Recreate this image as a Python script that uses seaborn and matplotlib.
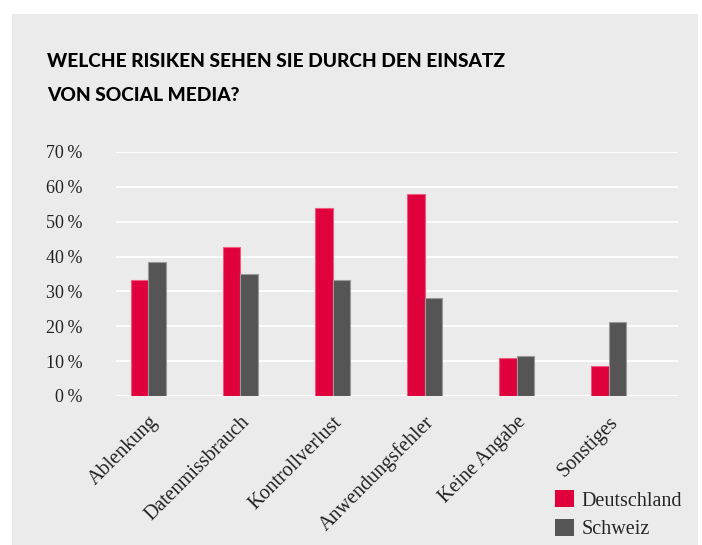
import pandas as pd
import seaborn as sns
import matplotlib.pyplot as plt
from matplotlib.patches import Rectangle, Patch

kategorien = ["Ablenkung", "Datenmissbrauch", "Kontrollverlust",
              "Anwendungsfehler", "Keine Angabe", "Sonstiges"]
deutschland = [33.4, 42.7, 53.8, 57.9, 10.8, 8.6]
schweiz = [38.5, 35.0, 33.4, 28.0, 11.5, 21.3]
laender = ["Deutschland", "Schweiz"]
farben = ["#E0003C", "#555555"]
y_ticks = [0, 10, 20, 30, 40, 50, 60, 70]

df = pd.DataFrame({
    "Kategorie": kategorien * 2,
    "Land": [laender[0]] * len(kategorien) + [laender[1]] * len(kategorien),
    "Wert": deutschland + schweiz,
})

sns.set_theme(style="white")
plt.rcParams["font.family"] = ["Liberation Serif", "DejaVu Serif"]

fig = plt.figure(figsize=(7.02, 5.45), dpi=100)
fig.patch.set_facecolor("white")
fig.patches.append(Rectangle((12 / 702, 0), 686 / 702, 531 / 545,
                             transform=fig.transFigure, facecolor="#EBEBEB",
                             edgecolor="none", zorder=-10))

ax = fig.add_axes([116 / 702, 149 / 545, 562 / 702, 244 / 545])
ax.set_facecolor("none")

sns.barplot(data=df, x="Kategorie", y="Wert", hue="Land", palette=farben,
            width=0.38, ax=ax, legend=False, saturation=1, zorder=3)

for p in ax.patches:
    if p.get_facecolor()[0] < 0.5:
        p.set_edgecolor("#9a9a9a")
    else:
        p.set_edgecolor("#ee5c80")
    p.set_linewidth(0.8)

ax.set_ylim(0, 70)
ax.set_xlim(-0.35, 5.75)
ax.set_yticks(y_ticks)
ax.set_yticklabels([f"{v}\u2009%" for v in y_ticks], fontsize=13)
ax.yaxis.grid(True, color="white", linewidth=1.3, zorder=1)
ax.set_axisbelow(True)
for s in ax.spines.values():
    s.set_visible(False)
ax.tick_params(axis="y", length=0, pad=24, labelcolor="#222222")
ax.tick_params(axis="x", length=0, pad=12, labelcolor="#222222")
plt.setp(ax.get_xticklabels(), rotation=45, ha="right",
         rotation_mode="anchor", fontsize=14.5)
ax.set_xlabel("")
ax.set_ylabel("")

fig.text(47 / 702, 478 / 545, "WELCHE RISIKEN SEHEN SIE DURCH DEN EINSATZ",
         fontsize=13.8, fontweight="black", family=["Lato", "DejaVu Sans"],
         color="black")
fig.text(47 / 702, 444 / 545, "VON SOCIAL MEDIA?",
         fontsize=13.8, fontweight="black", family=["Lato", "DejaVu Sans"],
         color="black")

handles = [Patch(facecolor=c, edgecolor="none", label=l) for c, l in zip(farben, laender)]
fig.legend(handles=handles, loc="upper left",
           bbox_to_anchor=(555 / 702, 55 / 545), frameon=False, fontsize=14.5,
           handlelength=0.95, handleheight=0.95, handletextpad=0.35,
           labelspacing=0.4, borderaxespad=0, borderpad=0)

fig.savefig("out.png", dpi=100)
